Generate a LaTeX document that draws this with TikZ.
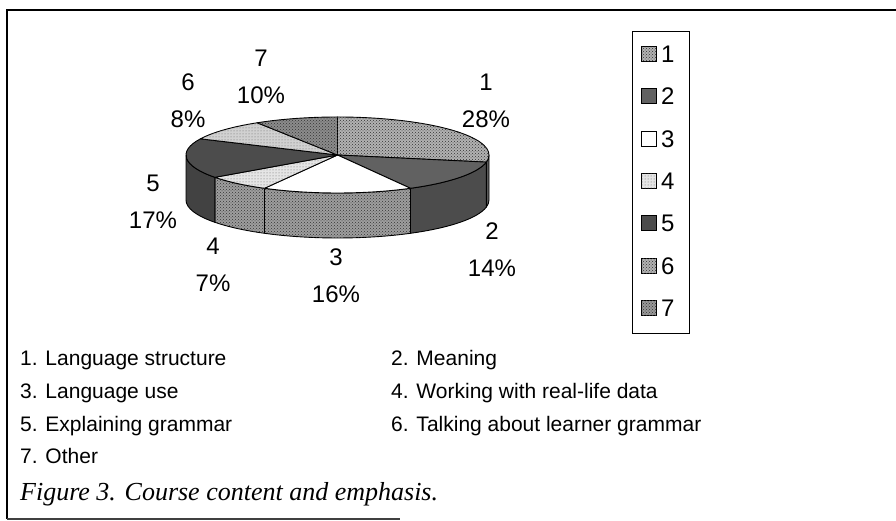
\documentclass[tikz,border=0pt]{standalone}
\usepackage{fontspec}
\setmainfont{Liberation Sans}
\newfontfamily\capfont{Liberation Serif}
\usetikzlibrary{patterns}
\newcommand\pcx{337.5}
\newcommand\pcy{366}
\newcommand\prx{151.5}
\newcommand\pry{38}
\newcommand\pdep{45}
\newcommand\rimseg[3]{%
  \path[#3] ({\pcx+\prx*cos(#1)},{\pcy+\pry*sin(#1)})
    arc[start angle=#1,end angle=#2,x radius=\prx,y radius=\pry]
    -- ++(0,-\pdep)
    arc[start angle=#2,end angle=#1,x radius=\prx,y radius=\pry] -- cycle;}
\newcommand\topseg[3]{%
  \path[#3] (\pcx,\pcy) -- ({\pcx+\prx*cos(#1)},{\pcy+\pry*sin(#1)})
    arc[start angle=#1,end angle=#2,x radius=\prx,y radius=\pry] -- cycle;}
\begin{document}
\begin{tikzpicture}[x=1pt,y=1pt,
  lbl/.style={font=\fontsize{24}{37}\selectfont, align=center, inner sep=0pt},
  legtxt/.style={font=\fontsize{24}{28}\selectfont, anchor=west, inner sep=0pt},
  rowtxt/.style={font=\fontsize{21}{25}\selectfont, anchor=base west, inner sep=0pt},
  sw/.style={draw=black, line width=0.8pt, minimum size=15pt, inner sep=0pt},
  face/.style={draw=black, line width=0.9pt, line join=round},
  checker/.style={postaction={pattern=crosshatch dots, pattern color=black!80}},
  fine/.style={postaction={pattern=dots, pattern color=black!60}},
  top1/.style={face, fill=black!30, checker},
  top2/.style={face, fill=black!62},
  top3/.style={face, fill=white},
  top4/.style={face, fill=black!10, fine},
  top5/.style={face, fill=black!70},
  top6/.style={face, fill=black!18, fine},
  top7/.style={face, fill=black!45, checker},
  rim1/.style={face, fill=black!65},
  rim2/.style={face, fill=black!70},
  rim3/.style={face, fill=black!38, checker},
  rim4/.style={face, fill=black!38, checker},
  rim5/.style={face, fill=black!74}
]
\useasboundingbox (0,0) rectangle (896,521);
% frame
\draw[line width=1.6pt] (7,2) -- (7,511) -- (896,511);
\draw[line width=1.2pt, black!75] (7,2) -- (400,2);
% pie rims (front half)
\rimseg{0}{-10.8}{rim1}
\rimseg{-10.8}{-61.2}{rim2}
\rimseg{-61.2}{-118.8}{rim3}
\rimseg{-118.8}{-144}{rim4}
\rimseg{-144}{-180}{rim5}
% pie tops
\topseg{90}{-10.8}{top1}
\topseg{-10.8}{-61.2}{top2}
\topseg{-61.2}{-118.8}{top3}
\topseg{-118.8}{-144}{top4}
\topseg{-144}{-205.2}{top5}
\topseg{154.8}{122}{top6}
\topseg{122}{90}{top7}
% data labels
\node[lbl] (l7) at (261,444.5) {7\\10\%};
\node[lbl] (l6) at (188,420.5) {6\\8\%};
\node[lbl] (l1) at (486,420.5) {1\\28\%};
\node[lbl] (l5) at (153,319.5) {5\\17\%};
\node[lbl] (l4) at (213,256) {4\\7\%};
\node[lbl] (l3) at (336,245.5) {3\\16\%};
\node[lbl] (l2) at (492,271.5) {2\\14\%};
% legend
\draw[line width=0.9pt] (632,188) rectangle (689,490);
\node[sw, fill=black!30, checker] (sw1) at (649,467) {};
\node[sw, fill=black!62] (sw2) at (649,425) {};
\node[sw, fill=white] (sw3) at (649,382) {};
\node[sw, fill=black!10, fine] (sw4) at (649,340) {};
\node[sw, fill=black!70] (sw5) at (649,298) {};
\node[sw, fill=black!30, checker] (sw6) at (649,255) {};
\node[sw, fill=black!40, checker] (sw7) at (649,213) {};
\node[legtxt] (lg1) at (661,467) {1};
\node[legtxt] (lg2) at (661,425) {2};
\node[legtxt] (lg3) at (661,382) {3};
\node[legtxt] (lg4) at (661,340) {4};
\node[legtxt] (lg5) at (661,298) {5};
\node[legtxt] (lg6) at (661,255) {6};
\node[legtxt] (lg7) at (661,213) {7};
% key text
\node[rowtxt] (k1) at (20,155.5) {1. Language structure};
\node[rowtxt] (k2) at (391,155.5) {2. Meaning};
\node[rowtxt] (k3) at (20,122.5) {3. Language use};
\node[rowtxt] (k4) at (391,122.5) {4. Working with real-life data};
\node[rowtxt] (k5) at (20,89.5) {5. Explaining grammar};
\node[rowtxt] (k6) at (391,89.5) {6. Talking about learner grammar};
\node[rowtxt] (k7) at (20,57.5) {7. Other};
\node[anchor=base west, inner sep=0pt, font=\capfont\itshape\fontsize{26}{30}\selectfont] (cap) at (20,20.5) {Figure 3. Course content and emphasis.};
\end{tikzpicture}
\end{document}
